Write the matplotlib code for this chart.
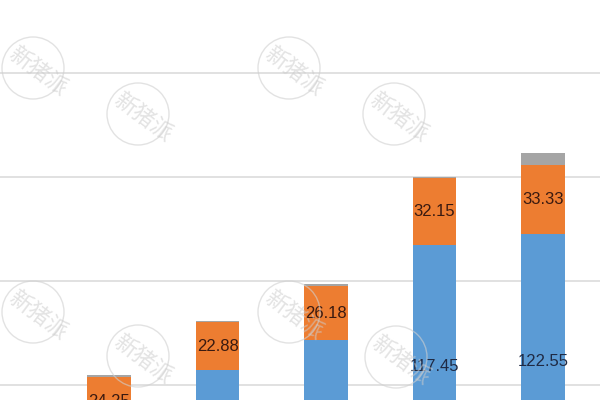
import matplotlib.pyplot as plt
from matplotlib.patches import Circle

# Stacked values per bar
categories = ["1", "2", "3", "4", "5"]
blue_vals = [29.8, 57.2, 71.5, 117.45, 122.55]
orange_vals = [24.25, 22.88, 26.18, 32.15, 33.33]
gray_vals = [0.8, 0.8, 1.0, 0.3, 5.7]

blue_labels = ["", "", "", "117.45", "122.55"]
orange_labels = ["24.25", "22.88", "26.18", "32.15", "33.33"]

c_blue = "#5B9BD5"
c_orange = "#ED7D31"
c_gray = "#A5A5A5"

fig = plt.figure(figsize=(6, 4), dpi=100)
# axes reaches beyond the picture: the reference is a crop of a bigger chart
ax = fig.add_axes([0, -0.2225, 1, 1.196])
ax.set_ylim(0, 230)
ax.set_xlim(-1.005, 4.525)

x = list(range(len(categories)))
ax.bar(x, blue_vals, width=0.4, color=c_blue, zorder=2)
ax.bar(x, orange_vals, width=0.4, bottom=blue_vals, color=c_orange, zorder=2)
bottoms = [b + o for b, o in zip(blue_vals, orange_vals)]
ax.bar(x, gray_vals, width=0.4, bottom=bottoms, color=c_gray, zorder=2)

for i in x:
    if blue_labels[i]:
        ax.text(i, blue_vals[i] / 2, blue_labels[i], ha="center", va="center",
                fontsize=12, color="#1f2a44", family="Liberation Sans", zorder=4)
    ax.text(i, blue_vals[i] + orange_vals[i] / 2, orange_labels[i], ha="center",
            va="center", fontsize=12, color="#3a1a10", family="Liberation Sans", zorder=4)

ax.set_yticks([50, 100, 150, 200])
ax.grid(axis="y", color="#d9d9d9", linewidth=1.1, zorder=0)
ax.set_xticks([])
ax.tick_params(left=False, labelleft=False)
for s in ax.spines.values():
    s.set_visible(False)

# faint watermarks
marks = [(33, 68), (138, 114), (289, 68), (394, 114),
         (33, 312), (138, 356), (289, 312), (396, 357)]
for px, py in marks:
    fig.patches.append(Circle((px, 400 - py), 31, transform=None, fill=False,
                              edgecolor="#d0d0d0", linewidth=1.0, alpha=0.6, zorder=3))
    fig.text((px + 5) / 600, 1 - (py + 3) / 400, "新猪派", rotation=-37,
             ha="center", va="center", fontsize=16, color="#cccccc", alpha=0.55,
             family=["Noto Sans CJK SC", "DejaVu Sans"], fontweight="light", zorder=3)

fig.savefig("out.png", dpi=100)
